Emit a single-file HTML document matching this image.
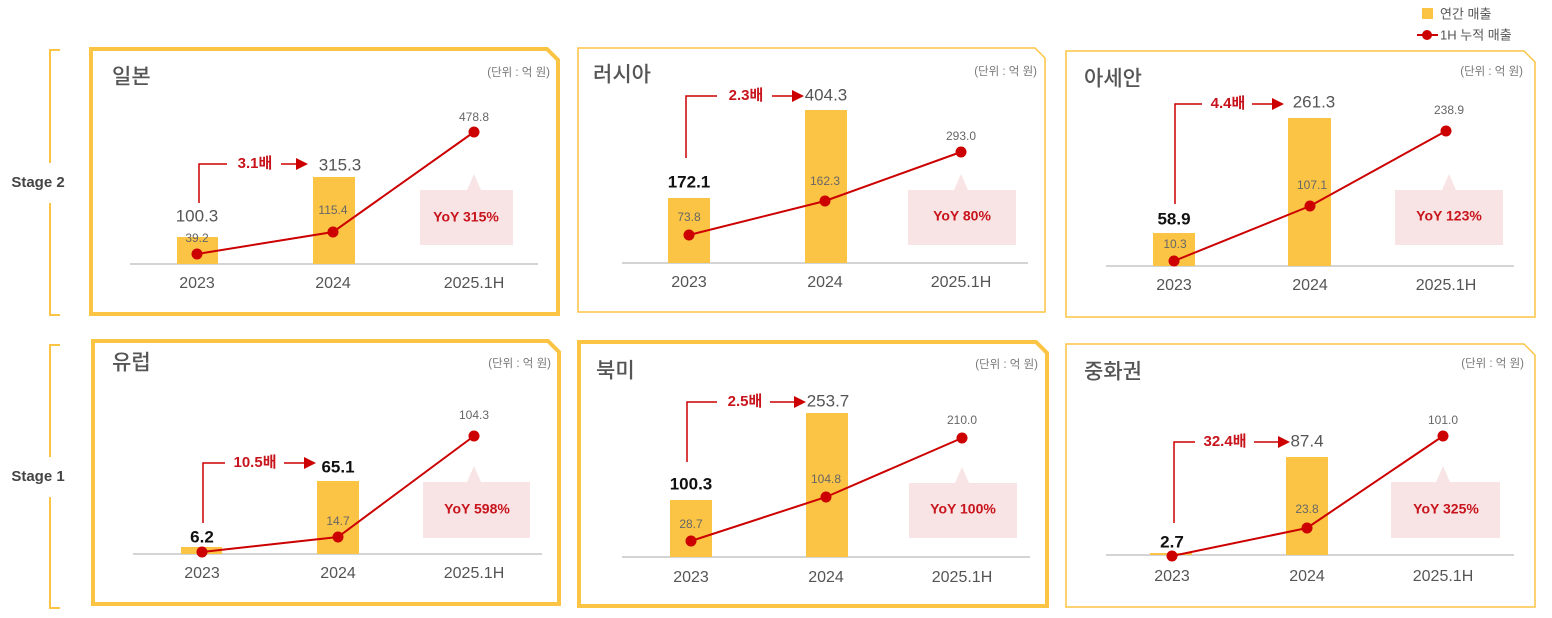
<!DOCTYPE html>
<html><head><meta charset="utf-8"><style>
html,body{margin:0;padding:0;background:#fff;width:1552px;height:618px;overflow:hidden}
svg text{font-family:"Liberation Sans","Noto Sans CJK KR",sans-serif}
.t{font-size:21px;fill:#555;font-weight:500}
.u{font-size:11.5px;fill:#777}
.yr{font-size:16px;fill:#555;text-anchor:middle}
.big{font-size:17px;fill:#555;text-anchor:middle}
.bk{font-size:17px;fill:#111;text-anchor:middle;font-weight:bold}
.sm{font-size:12px;fill:#666;text-anchor:middle}
.rd{font-size:15px;fill:#c8141c;font-weight:bold;text-anchor:middle}
.yoy{font-size:14px;fill:#c8141c;font-weight:bold;text-anchor:middle}
.st{font-size:15px;fill:#444;font-weight:bold;text-anchor:middle}
</style></head><body>
<svg width="1552" height="618" viewBox="0 0 1552 618" xmlns="http://www.w3.org/2000/svg" dominant-baseline="middle">
<rect x="1422" y="8" width="11" height="11" fill="#fcc445"/>
<text x="1440" y="15" font-size="13" fill="#555">연간 매출</text>
<line x1="1417" y1="35" x2="1438" y2="35" stroke="#c00" stroke-width="2"/>
<circle cx="1427" cy="35" r="5" fill="#c00"/>
<text x="1440" y="36" font-size="13" fill="#555">1H 누적 매출</text>
<path d="M60 50 H50 V163 M50 203 V315 H60" fill="none" stroke="#fcc445" stroke-width="2"/>
<text x="38" y="183" class="st">Stage 2</text>
<path d="M60 345 H50 V457 M50 497 V608 H60" fill="none" stroke="#fcc445" stroke-width="2"/>
<text x="38" y="477" class="st">Stage 1</text>

<g fill="#fff" stroke="#fcc445">
<path d="M91 49 H547 L558 60 V314 H91 Z" stroke-width="4"/>
<path d="M578 48 H1035 L1045 58 V312 H578 Z" stroke-width="1.5"/>
<path d="M1066 51 H1524 L1535 62 V317 H1066 Z" stroke-width="1.5"/>
<path d="M93 341 H548 L559 352 V604 H93 Z" stroke-width="4"/>
<path d="M579 342 H1036 L1047 353 V606 H579 Z" stroke-width="4"/>
<path d="M1066 344 H1524 L1535 355 V607 H1066 Z" stroke-width="1.5"/>
</g>

<!-- P1 -->
<text x="112" y="78" class="t">일본</text><text x="550" y="73" class="u" text-anchor="end">(단위 : 억 원)</text>
<line x1="130" y1="264" x2="538" y2="264" stroke="#aaa"/>
<rect x="177" y="237" width="41" height="27" fill="#fcc445"/><rect x="313" y="177" width="42" height="87" fill="#fcc445"/>
<text x="197" y="217" class="big">100.3</text><text x="340" y="166" class="big">315.3</text>
<path d="M420 190 H467 L474 174 L481 190 H513 V245 H420 Z" fill="#f8e4e4"/>
<text x="466" y="218" class="yoy">YoY 315%</text>
<path d="M199 203 V164 H227" fill="none" stroke="#c00" stroke-width="1.5"/><text x="255" y="164" class="rd">3.1배</text>
<line x1="281" y1="164" x2="296" y2="164" stroke="#c00" stroke-width="1.5"/><path d="M296 158 L308 164 L296 170Z" fill="#c00"/>
<polyline points="197,254 333,232 474,132" fill="none" stroke="#c00" stroke-width="2"/>
<g fill="#c00"><circle cx="197" cy="254" r="5.5"/><circle cx="333" cy="232" r="5.5"/><circle cx="474" cy="132" r="5.5"/></g>
<text x="197" y="239" class="sm">39.2</text><text x="333" y="211" class="sm">115.4</text><text x="474" y="118" class="sm">478.8</text>
<text x="197" y="284" class="yr">2023</text><text x="333" y="284" class="yr">2024</text><text x="474" y="284" class="yr">2025.1H</text>

<!-- P2 -->
<text x="593" y="76" class="t">러시아</text><text x="1037" y="72" class="u" text-anchor="end">(단위 : 억 원)</text>
<line x1="622" y1="263" x2="1028" y2="263" stroke="#aaa"/>
<rect x="668" y="198" width="42" height="65" fill="#fcc445"/><rect x="805" y="110" width="42" height="153" fill="#fcc445"/>
<text x="689" y="183" class="bk">172.1</text><text x="826" y="96" class="big">404.3</text>
<path d="M908 190 H954 L961 174 L968 190 H1016 V245 H908 Z" fill="#f8e4e4"/>
<text x="962" y="217" class="yoy">YoY 80%</text>
<path d="M686 158 V96 H717" fill="none" stroke="#c00" stroke-width="1.5"/><text x="746" y="96" class="rd">2.3배</text>
<line x1="772" y1="96" x2="792" y2="96" stroke="#c00" stroke-width="1.5"/><path d="M792 90 L804 96 L792 102Z" fill="#c00"/>
<polyline points="689,235 825,201 961,152" fill="none" stroke="#c00" stroke-width="2"/>
<g fill="#c00"><circle cx="689" cy="235" r="5.5"/><circle cx="825" cy="201" r="5.5"/><circle cx="961" cy="152" r="5.5"/></g>
<text x="689" y="218" class="sm">73.8</text><text x="825" y="182" class="sm">162.3</text><text x="961" y="137" class="sm">293.0</text>
<text x="689" y="283" class="yr">2023</text><text x="825" y="283" class="yr">2024</text><text x="961" y="283" class="yr">2025.1H</text>

<!-- P3 -->
<text x="1084" y="80" class="t">아세안</text><text x="1523" y="72" class="u" text-anchor="end">(단위 : 억 원)</text>
<line x1="1106" y1="266" x2="1514" y2="266" stroke="#aaa"/>
<rect x="1153" y="233" width="42" height="33" fill="#fcc445"/><rect x="1288" y="118" width="43" height="148" fill="#fcc445"/>
<text x="1174" y="220" class="bk">58.9</text><text x="1314" y="103" class="big">261.3</text>
<path d="M1395 190 H1442 L1449 174 L1456 190 H1503 V245 H1395 Z" fill="#f8e4e4"/>
<text x="1449" y="217" class="yoy">YoY 123%</text>
<path d="M1175 204 V104 H1202" fill="none" stroke="#c00" stroke-width="1.5"/><text x="1228" y="104" class="rd">4.4배</text>
<line x1="1252" y1="104" x2="1272" y2="104" stroke="#c00" stroke-width="1.5"/><path d="M1272 98 L1284 104 L1272 110Z" fill="#c00"/>
<polyline points="1174,261 1310,206 1446,131" fill="none" stroke="#c00" stroke-width="2"/>
<g fill="#c00"><circle cx="1174" cy="261" r="5.5"/><circle cx="1310" cy="206" r="5.5"/><circle cx="1446" cy="131" r="5.5"/></g>
<text x="1175" y="245" class="sm">10.3</text><text x="1312" y="186" class="sm">107.1</text><text x="1449" y="111" class="sm">238.9</text>
<text x="1174" y="286" class="yr">2023</text><text x="1310" y="286" class="yr">2024</text><text x="1446" y="286" class="yr">2025.1H</text>

<!-- P4 -->
<text x="112" y="364" class="t">유럽</text><text x="551" y="364" class="u" text-anchor="end">(단위 : 억 원)</text>
<line x1="133" y1="554" x2="542" y2="554" stroke="#aaa"/>
<rect x="181" y="547" width="41" height="7" fill="#fcc445"/><rect x="317" y="481" width="42" height="73" fill="#fcc445"/>
<text x="202" y="538" class="bk">6.2</text><text x="338" y="468" class="bk">65.1</text>
<path d="M423 482 H467 L474 466 L481 482 H530 V538 H423 Z" fill="#f8e4e4"/>
<text x="477" y="510" class="yoy">YoY 598%</text>
<path d="M203 523 V463 H225" fill="none" stroke="#c00" stroke-width="1.5"/><text x="255" y="463" class="rd">10.5배</text>
<line x1="284" y1="463" x2="304" y2="463" stroke="#c00" stroke-width="1.5"/><path d="M304 457 L316 463 L304 469Z" fill="#c00"/>
<polyline points="202,552 338,537 474,436" fill="none" stroke="#c00" stroke-width="2"/>
<g fill="#c00"><circle cx="202" cy="552" r="5.5"/><circle cx="338" cy="537" r="5.5"/><circle cx="474" cy="436" r="5.5"/></g>
<text x="338" y="522" class="sm">14.7</text><text x="474" y="416" class="sm">104.3</text>
<text x="202" y="574" class="yr">2023</text><text x="338" y="574" class="yr">2024</text><text x="474" y="574" class="yr">2025.1H</text>

<!-- P5 -->
<text x="596" y="372" class="t">북미</text><text x="1038" y="365" class="u" text-anchor="end">(단위 : 억 원)</text>
<line x1="622" y1="557" x2="1030" y2="557" stroke="#aaa"/>
<rect x="670" y="500" width="42" height="57" fill="#fcc445"/><rect x="806" y="413" width="42" height="144" fill="#fcc445"/>
<text x="691" y="485" class="bk">100.3</text><text x="828" y="402" class="big">253.7</text>
<path d="M909 483 H955 L962 467 L969 483 H1017 V538 H909 Z" fill="#f8e4e4"/>
<text x="963" y="510" class="yoy">YoY 100%</text>
<path d="M687 462 V402 H717" fill="none" stroke="#c00" stroke-width="1.5"/><text x="745" y="402" class="rd">2.5배</text>
<line x1="770" y1="402" x2="794" y2="402" stroke="#c00" stroke-width="1.5"/><path d="M794 396 L806 402 L794 408Z" fill="#c00"/>
<polyline points="691,541 826,497 962,438" fill="none" stroke="#c00" stroke-width="2"/>
<g fill="#c00"><circle cx="691" cy="541" r="5.5"/><circle cx="826" cy="497" r="5.5"/><circle cx="962" cy="438" r="5.5"/></g>
<text x="691" y="525" class="sm">28.7</text><text x="826" y="480" class="sm">104.8</text><text x="962" y="421" class="sm">210.0</text>
<text x="691" y="578" class="yr">2023</text><text x="826" y="578" class="yr">2024</text><text x="962" y="578" class="yr">2025.1H</text>

<!-- P6 -->
<text x="1084" y="373" class="t">중화권</text><text x="1524" y="364" class="u" text-anchor="end">(단위 : 억 원)</text>
<line x1="1106" y1="555" x2="1514" y2="555" stroke="#aaa"/>
<rect x="1150" y="553" width="42" height="2" fill="#fcc445"/><rect x="1286" y="457" width="42" height="98" fill="#fcc445"/>
<text x="1172" y="543" class="bk">2.7</text><text x="1307" y="442" class="big">87.4</text>
<path d="M1391 482 H1436 L1443 466 L1450 482 H1500 V538 H1391 Z" fill="#f8e4e4"/>
<text x="1446" y="510" class="yoy">YoY 325%</text>
<path d="M1174 523 V442 H1195" fill="none" stroke="#c00" stroke-width="1.5"/><text x="1225" y="442" class="rd">32.4배</text>
<line x1="1254" y1="442" x2="1278" y2="442" stroke="#c00" stroke-width="1.5"/><path d="M1278 436 L1290 442 L1278 448Z" fill="#c00"/>
<polyline points="1172,556 1307,528 1443,436" fill="none" stroke="#c00" stroke-width="2"/>
<g fill="#c00"><circle cx="1172" cy="556" r="5.5"/><circle cx="1307" cy="528" r="5.5"/><circle cx="1443" cy="436" r="5.5"/></g>
<text x="1307" y="510" class="sm">23.8</text><text x="1443" y="421" class="sm">101.0</text>
<text x="1172" y="577" class="yr">2023</text><text x="1307" y="577" class="yr">2024</text><text x="1443" y="577" class="yr">2025.1H</text>
</svg>
</body></html>
